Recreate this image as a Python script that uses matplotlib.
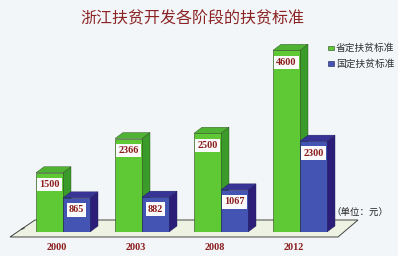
import matplotlib
matplotlib.use("Agg")
import matplotlib.pyplot as plt
from matplotlib.patches import Polygon, Rectangle
import numpy as np

# data
years = ["2000", "2003", "2008", "2012"]
province = [1500, 2366, 2500, 4600]
national = [865, 882, 1067, 2300]
province_labels = ["1500", "2366", "2500", "4600"]
national_labels = ["865", "882", "1067", "2300"]

title = "浙江扶贫开发各阶段的扶贫标准"
legend_names = ["省定扶贫标准", "国定扶贫标准"]
unit_text = "（单位：元）"

bg = "#f3f6f9"
green_front, green_side, green_top = "#5fc835", "#3a9a2a", "#4fb232"
blue_front, blue_side, blue_top = "#4354b2", "#2c1e78", "#383496"
red_text = "#8b1c1c"
cjk = ["Noto Sans CJK SC", "DejaVu Sans"]

W, H = 398, 256
fig = plt.figure(figsize=(W / 100, H / 100), dpi=100, facecolor=bg)

# axes: x in group units (79 px each), y in data units (0.0395 px per unit)
px_x = 79.0
px_y = 0.0395
x0_px = 63.0
base_px = 232.0
ax = fig.add_axes([0, (H - base_px) / H, 1, 200 / H])
ax.set_xlim(-x0_px / px_x, (W - x0_px) / px_x)
ax.set_ylim(0, 200 / px_y)
ax.axis("off")

def px2x(p):
    return (p - x0_px) / px_x

def px2y(p):
    return (base_px - p) / px_y

w = 27 / px_x
dx = 8 / px_x
dy = 6 / px_y

# floor
floor = Polygon([(px2x(10), px2y(237)), (px2x(35), px2y(220)),
                 (px2x(358), px2y(220)), (px2x(338), px2y(237))],
                closed=True, facecolor="#eef2e2", edgecolor="#444444",
                linewidth=0.7, zorder=1, clip_on=False)
ax.add_patch(floor)
for xp in [0.5, 1.5, 2.5]:
    ax.plot([xp, xp], [px2y(237), px2y(234.5)], color="#444444", lw=0.6, zorder=1.5)
ax.plot([px2x(22), px2x(24)], [px2y(229), px2y(228)], color="#444444", lw=1, zorder=1.5)

def draw_bar(x, v, front, side, top, edge, z):
    ax.bar(x, v, width=w, align="edge", color=front, edgecolor=edge,
           linewidth=0.4, zorder=z + 0.2)
    ax.add_patch(Polygon([(x + w, 0), (x + w + dx, dy), (x + w + dx, v + dy), (x + w, v)],
                         closed=True, facecolor=side, edgecolor=edge, linewidth=0.3, zorder=z))
    ax.add_patch(Polygon([(x, v), (x + dx, v + dy), (x + w + dx, v + dy), (x + w, v)],
                         closed=True, facecolor=top, edgecolor=edge, linewidth=0.3, zorder=z + 0.1))

idx = np.arange(len(years))
for i in idx:
    draw_bar(i - w, province[i], green_front, green_side, green_top, "#2b4a20", 2 + i)
    draw_bar(i, national[i], blue_front, blue_side, blue_top, "#1e1e5a", 2.5 + i)

def value_label(x, v, s, z):
    ax.text(x + w / 2, v - 12 / px_y, s, ha="center", va="center",
            fontsize=7.3, fontweight="bold", family="Liberation Serif", color=red_text,
            zorder=z,
            bbox=dict(boxstyle="square,pad=0.22", facecolor="#fbfbfb", edgecolor="none"))

for i in idx:
    value_label(i - w, province[i], province_labels[i], 10)
    value_label(i, national[i], national_labels[i], 10)

# year labels
for i in idx:
    ax.text(i - 0.08, px2y(247), years[i], ha="center", va="center",
            fontsize=7.3, fontweight="bold", family="Liberation Serif", color=red_text,
            clip_on=False)

# title
fig.text(192 / W, 1 - 19 / H, title, ha="center", va="center", fontsize=11.5,
         family=cjk, color="#8b2424")

# legend
fig.patches.append(Rectangle((328 / W, 1 - 50 / H), 6 / W, 4 / H, transform=fig.transFigure,
                             facecolor=green_front, edgecolor="#2b4a20", linewidth=0.4))
fig.patches.append(Rectangle((328 / W, 1 - 66 / H), 6 / W, 5 / H, transform=fig.transFigure,
                             facecolor=blue_front, edgecolor="#1e1e5a", linewidth=0.4))
fig.text(336 / W, 1 - 48 / H, legend_names[0], ha="left", va="center", fontsize=7,
         family=cjk, color="#333333")
fig.text(336 / W, 1 - 64 / H, legend_names[1], ha="left", va="center", fontsize=7,
         family=cjk, color="#333333")

# unit
fig.text(331 / W, 1 - 212 / H, unit_text, ha="left", va="center", fontsize=6.8,
         family=cjk, color="#222222")

fig.savefig("out.png", dpi=100, facecolor=bg)
